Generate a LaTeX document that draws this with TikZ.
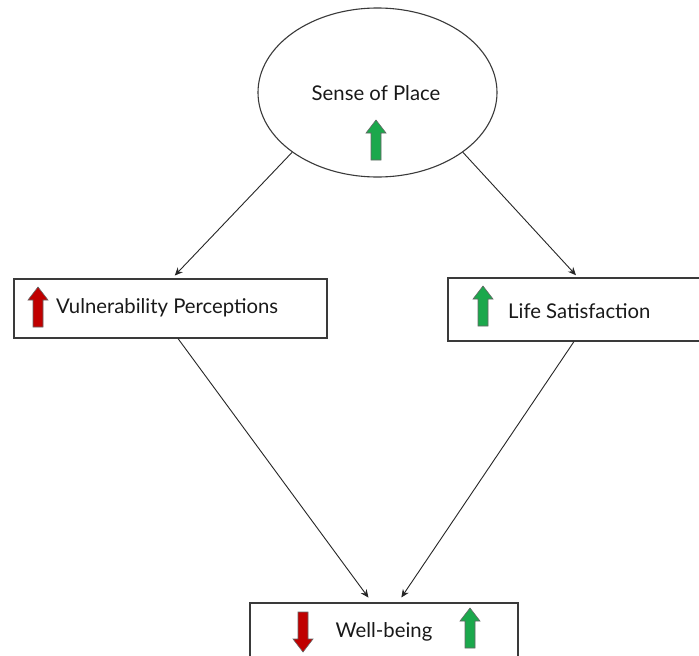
\documentclass[tikz,border=0pt]{standalone}
\usepackage{fontspec}
\setmainfont{Lato}
\usetikzlibrary{arrows.meta,shapes.geometric}
\definecolor{upgreen}{HTML}{1BA84C}
\definecolor{downred}{HTML}{C00000}
\definecolor{edgegray}{HTML}{3A3A3A}
\tikzset{
  box/.style={draw=edgegray,line width=1.1pt,fill=white,inner sep=0pt},
  lbl/.style={font=\fontsize{20.3}{24}\selectfont,text=black!90,inner sep=0pt},
  conn/.style={draw=black!85,line width=0.9pt,-{Stealth[length=8pt,width=7pt]}},
  blockarr/.style={draw=black!60,line width=0.6pt},
  pics/uparr/.style={code={\path[blockarr,fill=#1] (-5,0) -- (-5,-27) -- (-10,-27) -- (0,-40) -- (10,-27) -- (5,-27) -- (5,0) -- cycle;}},
  pics/downarr/.style={code={\path[blockarr,fill=#1] (-5,0) -- (-5,27) -- (-10,27) -- (0,40) -- (10,27) -- (5,27) -- (5,0) -- cycle;}},
}
\begin{document}
\begin{tikzpicture}[x=1pt,y=-1pt]
\useasboundingbox (0,0) rectangle (699,656);
\fill[white] (0,0) rectangle (699,656);
% nodes
\node[ellipse,box,minimum width=239pt,minimum height=169pt] (sop) at (377.5,92.5) {};
\node[lbl] (soptext) at (376,93) {Sense of Place};
\node[box,minimum width=313pt,minimum height=59pt] (vp) at (170.5,308.5) {};
\node[lbl,anchor=west] (vptext) at (56,308) {Vulnerability Perceptions};
\node[box,minimum width=272pt,minimum height=63pt] (ls) at (584,309.5) {};
\node[lbl,anchor=west] (lstext) at (508,311) {Life Satisfaction};
\node[box,minimum width=268pt,minimum height=67pt] (wb) at (384,636.5) {};
\node[lbl] (wbtext) at (384,632) {Well-being};
% block arrows
\pic at (376,160) {uparr=upgreen};
\pic at (38,327) {uparr=downred};
\pic at (483,326) {uparr=upgreen};
\pic at (303,612) {downarr=downred};
\pic at (470,648) {uparr=upgreen};
% connectors
\draw[conn,shorten >=4pt] (sop.215) -- ([xshift=1.5pt]vp.north);
\draw[conn,shorten >=3pt] (sop.-35) -- ([xshift=-6pt]ls.north);
\draw[conn,shorten >=6pt] ([xshift=7.5pt]vp.south) -- ([xshift=-12pt]wb.north);
\draw[conn,shorten >=6pt] ([xshift=-10pt]ls.south) -- ([xshift=14pt]wb.north);
\end{tikzpicture}
\end{document}
